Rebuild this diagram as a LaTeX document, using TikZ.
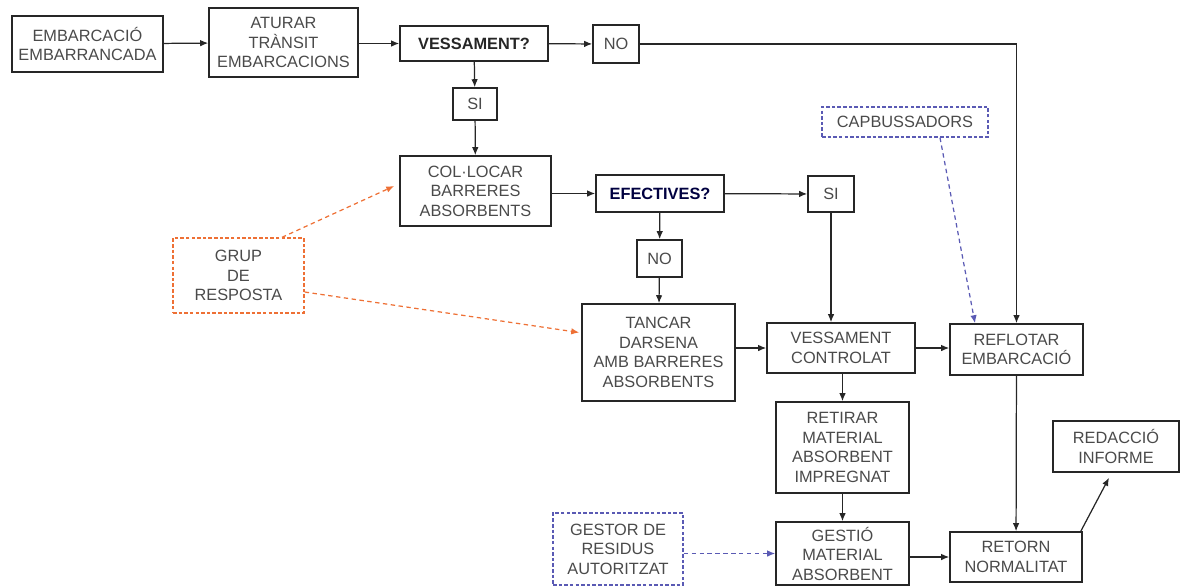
\documentclass[tikz,border=0pt]{standalone}
\usepackage{fontspec}
\setmainfont{Liberation Sans}
\usepackage{xcolor}
\usepackage{tikz}
\usetikzlibrary{arrows.meta,positioning,calc}
\definecolor{txt}{HTML}{4A4A4A}
\definecolor{org}{HTML}{EE7035}
\definecolor{blu}{HTML}{5A5AB4}
\tikzset{
  box/.style={rectangle,draw=black!85,line width=0.9pt,align=center,inner sep=0pt,text=txt,font=\fontsize{9.3}{11.1}\selectfont},
  qb/.style={box,font=\fontsize{9.3}{11.1}\selectfont\bfseries,text=black!85},
  og/.style={box,draw=org,dash pattern=on 2pt off 1.2pt,line width=0.8pt},
  bl/.style={box,draw=blu,dash pattern=on 2pt off 1.2pt,line width=0.8pt},
  ar/.style={-{Latex[length=1.6mm,width=1.3mm]},line width=0.7pt,draw=black!85},
  oarr/.style={ar,draw=org,dash pattern=on 2.5pt off 2pt},
  barr/.style={ar,draw=blu,dash pattern=on 2.5pt off 2pt},
}

\begin{document}
\begin{tikzpicture}[x=0.02cm,y=-0.02cm]
  \useasboundingbox (0,0) rectangle (1182,586);
  % first row
  \node[box,minimum width=3.02cm,minimum height=1.12cm] (emb) at (87.5,44) {EMBARCACIÓ\\EMBARRANCADA};
  \node[box,minimum width=2.98cm,minimum height=1.38cm] (atur) at (283.5,42.5) {ATURAR\\TRÀNSIT\\EMBARCACIONS};
  \node[qb,minimum width=2.96cm,minimum height=0.70cm] (vess) at (474,43.5) {VESSAMENT?};
  \node[box,minimum width=0.92cm,minimum height=0.76cm] (no1) at (616,44) {NO};
  \node[box,minimum width=0.88cm,minimum height=0.64cm] (si1) at (475,104) {SI};
  % barriers
  \node[box,minimum width=3.02cm,minimum height=1.40cm] (coloc) at (475.5,191) {COL·LOCAR\\BARRERES\\ABSORBENTS};
  \node[qb,text=black!75!blue,minimum width=2.56cm,minimum height=0.74cm] (efec) at (660,193.5) {EFECTIVES?};
  \node[box,minimum width=0.92cm,minimum height=0.72cm] (si2) at (831,194) {SI};
  \node[box,minimum width=0.90cm,minimum height=0.74cm] (no2) at (659.5,258.5) {NO};
  \node[box,minimum width=3.06cm,minimum height=1.94cm] (tanc) at (658.5,352.5) {TANCAR\\DARSENA\\AMB BARRERES\\ABSORBENTS};
  \node[box,minimum width=2.96cm,minimum height=1.00cm] (vctrl) at (841,348) {VESSAMENT\\CONTROLAT};
  \node[box,minimum width=2.66cm,minimum height=1.02cm] (refl) at (1016.5,349.5) {REFLOTAR\\EMBARCACIÓ};
  \node[box,minimum width=2.66cm,minimum height=1.82cm] (retir) at (842.5,447.5) {RETIRAR\\MATERIAL\\ABSORBENT\\IMPREGNAT};
  \node[box,minimum width=2.66cm,minimum height=1.26cm] (gest) at (842.5,553.5) {GESTIÓ\\MATERIAL\\ABSORBENT};
  \node[box,minimum width=2.64cm,minimum height=1.00cm] (ret) at (1016,557) {RETORN\\NORMALITAT};
  \node[box,minimum width=2.52cm,minimum height=1.02cm] (redac) at (1116,446.5) {REDACCIÓ\\INFORME};
  % external agents
  \node[og,minimum width=2.62cm,minimum height=1.50cm] (grup) at (238.5,275.5) {GRUP\\DE\\RESPOSTA};
  \node[bl,minimum width=3.32cm,minimum height=0.60cm] (capb) at (905,122) {CAPBUSSADORS};
  \node[bl,minimum width=2.60cm,minimum height=1.44cm] (gestor) at (618,549) {GESTOR DE\\RESIDUS\\AUTORITZAT};
  % flow
  \draw[ar] (emb) -- (atur);
  \draw[ar] (atur.east |- vess.west) -- (vess.west);
  \draw[ar] (vess) -- (no1);
  \draw[ar] (no1.east) -| (refl.north);
  \draw[ar] (vess) -- (si1);
  \draw[ar] (si1) -- (coloc);
  \draw[ar] (coloc.east |- efec.west) -- (efec.west);
  \draw[ar] (efec) -- (si2);
  \draw[ar] (efec) -- (no2);
  \draw[ar] (no2) -- (tanc);
  \draw[ar] (si2.south) -- (si2.south |- vctrl.north);
  \draw[ar] (tanc.east |- vctrl.west) -- (vctrl.west);
  \draw[ar] (vctrl.east) -- (vctrl.east -| refl.west);
  \draw[ar] (vctrl.south -| retir.north) -- (retir.north);
  \draw[ar] (retir) -- (gest);
  \draw[ar] (gest.east |- ret.west) -- (ret.west);
  \draw[ar] (refl) -- (ret);
  \draw[ar] ([xshift=-0.04cm]ret.north east) -- ([xshift=-0.14cm,yshift=-0.1cm]redac.south);
  % helpers
  \draw[oarr] ([xshift=0.87cm]grup.north) -- ([yshift=0.1cm,xshift=-0.1cm]coloc.west);
  \draw[oarr] ([yshift=-0.33cm]grup.east) -- ([yshift=0.4cm,xshift=-0.04cm]tanc.west);
  \draw[barr] ([xshift=0.7cm]capb.south) -- ([xshift=-0.83cm]refl.north);
  \draw[barr] (gest.west -| gestor.east) -- (gest.west);
\end{tikzpicture}
\end{document}
